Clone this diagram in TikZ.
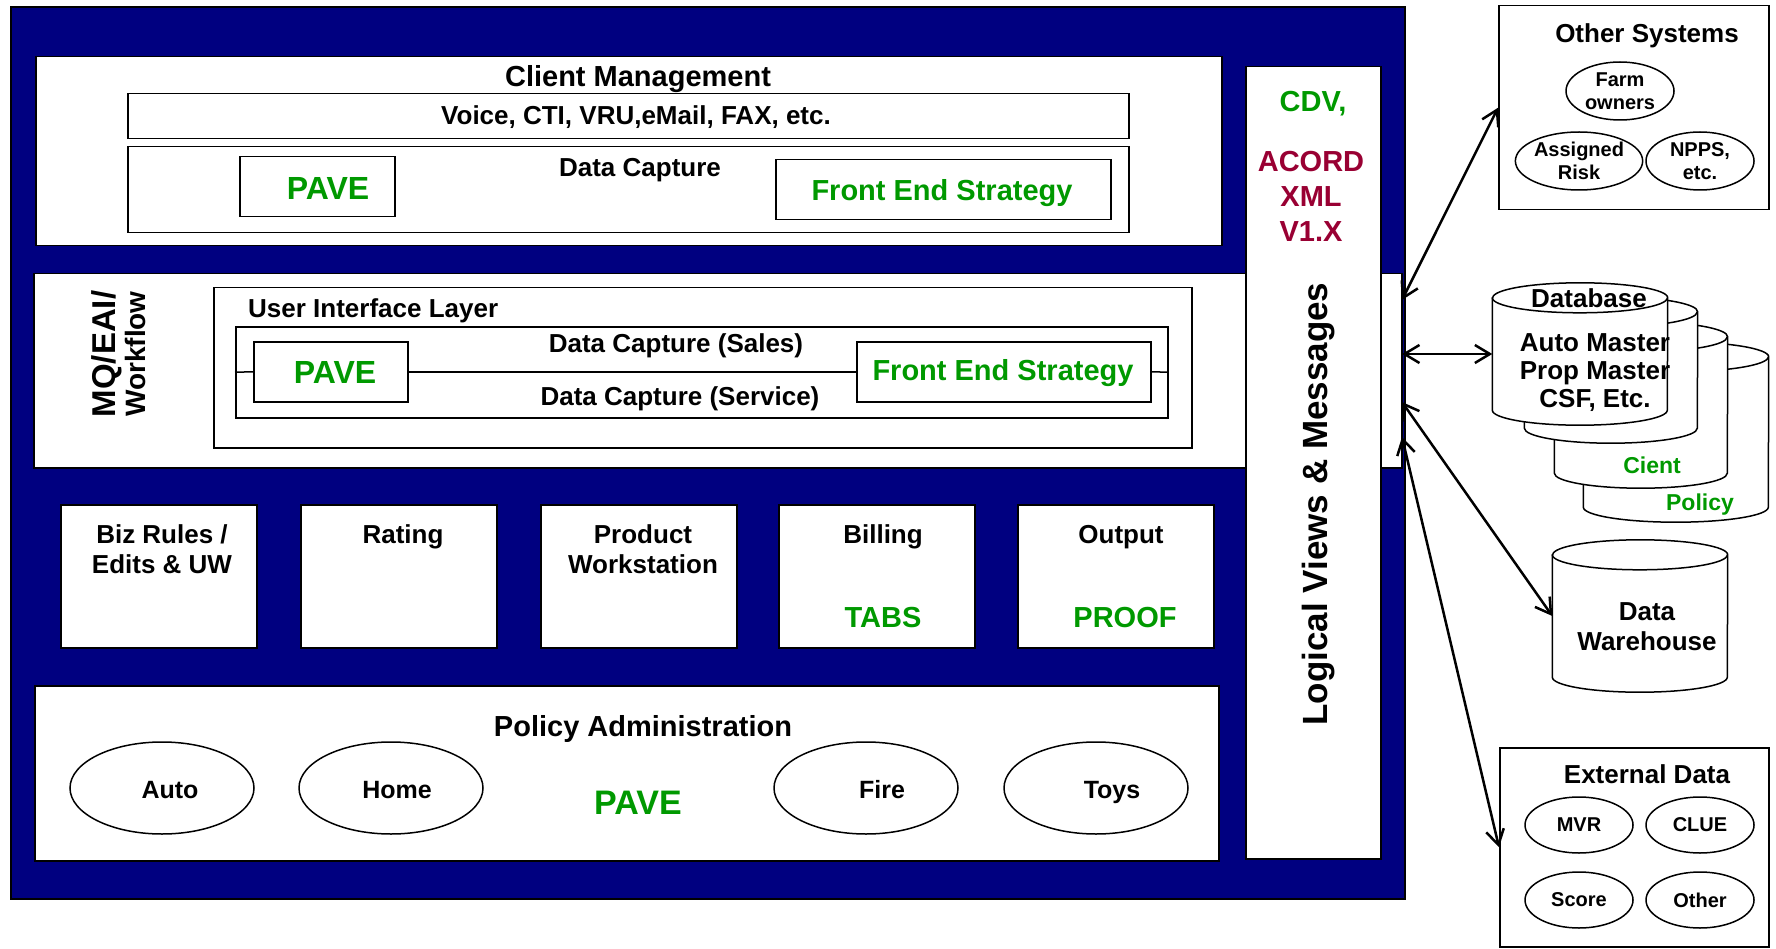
\documentclass[tikz,border=0pt]{standalone}
\usepackage{fontspec}
\setmainfont{Liberation Sans}
\usetikzlibrary{arrows.meta,positioning,shapes.geometric}
\definecolor{navy}{HTML}{000080}
\definecolor{pave}{HTML}{009900}
\definecolor{acord}{HTML}{990033}

% upright drum: name, centre x, centre y, width, height
\newcommand{\dbdrum}[5]{%
  \node[inner sep=0pt, minimum width=#4pt, minimum height=#5pt] (#1) at (#2,#3) {};
  \draw[line width=1.5pt, fill=white]
    ([yshift=-15pt]#1.north west) -- ([yshift=15pt]#1.south west)
    arc[start angle=180, end angle=360, x radius=#4pt/2, y radius=15pt]
    -- ([yshift=-15pt]#1.north east)
    arc[start angle=0, end angle=180, x radius=#4pt/2, y radius=15pt] -- cycle;
  \draw[line width=1.5pt] ([yshift=-15pt]#1.north west)
    arc[start angle=180, end angle=360, x radius=#4pt/2, y radius=15pt];
}

\begin{document}
\begin{tikzpicture}[
    x=1pt, y=-1pt,
    frame/.style={draw=black, line width=2pt, fill=navy, anchor=north west, inner sep=0pt},
    box/.style={draw=black, line width=1.5pt, fill=white, anchor=north west, inner sep=0pt},
    lbl/.style={font=\fontsize{26}{30}\selectfont\bfseries, inner sep=0pt, anchor=base, align=center},
    head/.style={lbl, font=\fontsize{29}{35}\selectfont\bfseries},
    grn/.style={head, text=pave},
    pavetxt/.style={grn, font=\fontsize{32}{36}\selectfont\bfseries},
    oval/.style={ellipse, draw=black, line width=1.5pt, fill=white, inner sep=0pt,
        minimum width=184pt, minimum height=92pt},
    otxt/.style={lbl, font=\fontsize{25}{29}\selectfont\bfseries},
    smalloval/.style={oval, minimum width=108pt, minimum height=58pt, align=center,
        font=\fontsize{20}{23}\selectfont\bfseries},
    link/.style={{Straight Barb[length=15pt,width=18pt]}-{Straight Barb[length=15pt,width=18pt]},
        line width=2.5pt},
]

\useasboundingbox (0,0) rectangle (1776,949);
\fill[white] (0,0) rectangle (1776,949);

% =============================================================
% Navy frame with the layers
% =============================================================
\node[frame, minimum width=1394pt, minimum height=892pt] (frame) at (10,6) {};

% Client management layer
\node[box, minimum width=1186pt, minimum height=189pt] (client) at (35,56) {};
\node[head] at (638,87) {Client Management};
\node[box, minimum width=1001pt, minimum height=45pt] (voice) at (127,93) {};
\node[lbl] at (636,125) {Voice, CTI, VRU,eMail, FAX, etc.};
\node[box, minimum width=1001pt, minimum height=86pt] (capture) at (127,146) {};
\node[lbl] at (640,177) {Data Capture};
\node[box, minimum width=155pt, minimum height=60pt] (pave1) at (239,156) {};
\node[pavetxt] at (328,200) {PAVE};
\node[box, minimum width=335pt, minimum height=60pt] (fes1) at (775,159) {};
\node[grn] at (942,201) {Front End Strategy};

% MQ / workflow band
\node[box, minimum width=1368pt, minimum height=194pt] (mq) at (33,273) {};
\node[lbl, rotate=90, anchor=center] (mqt) at (119,354)
    {{\fontsize{33}{32}\selectfont MQ/EAI/}\\{\fontsize{28}{32}\selectfont Workflow}};
\node[box, minimum width=978pt, minimum height=160pt] (uil) at (213,287) {};
\node[lbl, anchor=base west] at (248,318) {User Interface Layer};
\node[box, minimum width=932pt, minimum height=91pt] (dcin) at (235,326) {};
\node[box, minimum width=154pt, minimum height=60pt] (pave2) at (253,341) {};
\node[pavetxt] at (335,383) {PAVE};
\node[box, minimum width=294pt, minimum height=60pt] (fes2) at (856,341) {};
\node[grn] at (1003,380) {Front End Strategy};
\draw[line width=1.5pt] (dcin.west) -- (pave2.west);
\draw[line width=1.5pt] (pave2.east) -- (fes2.west);
\draw[line width=1.5pt] (fes2.east) -- (dcin.east);
\node[lbl] at (676,352) {Data Capture (Sales)};
\node[lbl] at (680,405) {Data Capture (Service)};

% Service blocks
\node[box, minimum width=196pt, minimum height=143pt] (biz) at (60,504) {};
\node[box, minimum width=196pt, minimum height=143pt] (rating) at (300,504) {};
\node[box, minimum width=196pt, minimum height=143pt] (product) at (540,504) {};
\node[box, minimum width=196pt, minimum height=143pt] (billing) at (778,504) {};
\node[box, minimum width=196pt, minimum height=143pt] (output) at (1017,504) {};
\node[lbl] at (162,573) {Biz Rules /\\Edits \& UW};
\node[lbl] at (403,543) {Rating};
\node[lbl] at (643,573) {Product\\Workstation};
\node[lbl] at (883,543) {Billing};
\node[grn] at (883,627) {TABS};
\node[lbl] at (1121,543) {Output};
\node[grn] at (1125,627) {PROOF};

% Policy administration
\node[box, minimum width=1184pt, minimum height=175pt] (policy) at (34,685) {};
\node[head] at (643,736) {Policy Administration};
\node[oval] (auto) at (162,788) {};
\node[oval] (home) at (391,788) {};
\node[oval] (fire) at (866,788) {};
\node[oval] (toys) at (1096,788) {};
\node[otxt] at ([xshift=8pt,yshift=-10pt]auto.center) {Auto};
\node[otxt] at ([xshift=6pt,yshift=-10pt]home.center) {Home};
\node[otxt] at ([xshift=16pt,yshift=-10pt]fire.center) {Fire};
\node[otxt] at ([xshift=16pt,yshift=-10pt]toys.center) {Toys};
\node[pavetxt, font=\fontsize{34}{38}\selectfont\bfseries] at (638,814) {PAVE};

% Logical views column
\node[box, minimum width=135pt, minimum height=792pt] (views) at (1245,66) {};
\node[grn] at (1313,112) {CDV,};
\node[head, text=acord] at (1311,242) {ACORD\\XML\\V1.X};
\node[lbl, rotate=90, font=\fontsize{35}{40}\selectfont\bfseries] at (1327,504) {Logical Views \& Messages};

% =============================================================
% Outside systems
% =============================================================
\node[box, minimum width=270pt, minimum height=204pt] (osys) at (1498,5) {};
\node[lbl] at (1647,43) {Other Systems};
\node[smalloval] (farm) at (1620,91) {Farm\\owners};
\node[smalloval] (risk) at (1579,161) {Assigned\\Risk};
\node[smalloval] (npps) at (1700,161) {NPPS,\\etc.};

% Database stack, back to front
\dbdrum{db4}{1676}{432}{185}{180}
\dbdrum{db3}{1641}{405}{173}{166}
\dbdrum{db2}{1611}{370}{173}{146}
\dbdrum{db1}{1580}{354}{175}{142}
\node[lbl] at (1589,308) {Database};
\node[lbl, font=\fontsize{26}{28}\selectfont\bfseries] at (1595,407) {Auto Master\\Prop Master\\CSF, Etc.};
\node[grn, font=\fontsize{23}{27}\selectfont\bfseries] at (1652,473) {Cient};
\node[grn, font=\fontsize{23}{27}\selectfont\bfseries] at (1700,510) {Policy};

\dbdrum{dw}{1640}{616}{175}{152}
\node[lbl] at (1647,650) {Data\\Warehouse};

\node[box, minimum width=269pt, minimum height=199pt] (ext) at (1499,747) {};
\node[lbl] at (1647,783) {External Data};
\node[smalloval, minimum height=56pt] (mvr) at (1579,825) {MVR};
\node[smalloval, minimum height=56pt] (clue) at (1700,825) {CLUE};
\node[smalloval, minimum height=56pt] (score) at (1579,900) {Score};
\node[smalloval, minimum height=56pt] (other) at (1700,900) {Other};

% Links from the views column
\coordinate (lv1) at (1402,300);
\coordinate (lv2) at (1402,354);
\coordinate (lv3) at (1402,402);
\coordinate (lv4) at (1402,437);
\draw[link] (lv1) -- (osys.west);
\draw[link] (lv2) -- (db1.west);
\draw[link] (lv3) -- (dw.west);
\draw[link] (lv4) -- (ext.west);

\end{tikzpicture}
\end{document}
